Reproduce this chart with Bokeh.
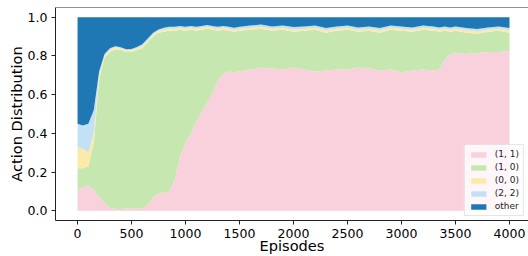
from bokeh.plotting import figure
from bokeh.models import ColumnDataSource, FixedTicker, Span, PrintfTickFormatter
from bokeh.embed import file_html
from bokeh.resources import INLINE

episodes = [0, 50, 100, 150, 200, 250, 300, 350, 400, 450, 500, 550, 600, 650, 700,
            750, 800, 850, 900, 950, 1000, 1050, 1100, 1150, 1200, 1250, 1300, 1350,
            1400, 1450, 1500, 1600, 1700, 1800, 1900, 2000, 2100, 2200, 2300, 2400,
            2500, 2600, 2700, 2800, 2900, 3000, 3100, 3200, 3300, 3350, 3400, 3450,
            3500, 3600, 3700, 3800, 3900, 4000]

a11 = [.11, .12, .13, .11, .07, .04, .015, .01, .01, .012, .015, .012, .01, .03, .07,
       .09, .095, .10, .16, .28, .35, .40, .46, .51, .56, .61, .67, .71,
       .72, .715, .72, .73, .74, .735, .73, .74, .73, .72, .725, .73,
       .73, .74, .735, .725, .73, .715, .725, .73, .725, .73, .78, .81,
       .815, .81, .815, .82, .82, .825]
a10 = [.11, .10, .10, .24, .61, .75, .805, .825, .82, .808, .805, .818, .83, .84, .83,
       .83, .83, .83, .77, .655, .58, .535, .47, .425, .38, .325, .26, .225,
       .21, .21, .21, .205, .20, .195, .205, .185, .20, .215, .195, .20,
       .205, .185, .195, .195, .205, .215, .20, .205, .205, .195, .15, .115,
       .115, .11, .10, .105, .11, .095]
a00 = [.11, .10, .07, .05, .02, .01, .01, .01, .01, .01, .01, .01, .01, .01, .01,
       .01, .01, .01, .01, .01, .01, .01, .01, .01, .01, .01, .01, .01,
       .01, .01, .01, .01, .01, .01, .01, .012, .01, .01, .012, .01,
       .01, .01, .01, .012, .01, .01, .01, .01, .01, .01, .01, .01,
       .01, .012, .012, .01, .01, .012]
a22 = [.12, .12, .15, .12, .02, .01, .01, .005, .005, .005, .006, .006, .01, .01, .01,
       .007, .01, .01, .01, .01, .01, .01, .01, .01, .01, .01, .01, .01,
       .01, .01, .01, .012, .012, .012, .012, .012, .012, .012, .012, .012,
       .012, .012, .012, .012, .012, .012, .012, .012, .012, .012, .012, .012,
       .012, .012, .012, .012, .012, .012]
other = [.55, .56, .55, .48, .28, .19, .16, .15, .155, .165, .164, .154, .14, .11, .08,
         .063, .055, .05, .05, .045, .05, .045, .05, .045, .04, .045, .05, .045,
         .05, .055, .05, .043, .038, .048, .043, .051, .048, .043, .056, .048,
         .043, .053, .048, .056, .043, .048, .053, .043, .048, .053, .048, .053,
         .048, .056, .061, .053, .048, .056]

labels = ["(1, 1)", "(1, 0)", "(0, 0)", "(2, 2)", "other"]
keys = ["a11", "a10", "a00", "a22", "other"]
colors = ["#f9d1dc", "#c7e7b0", "#fde9a8", "#c3e1f5", "#1f77b4"]

src = ColumnDataSource(dict(ep=episodes, a11=a11, a10=a10, a00=a00, a22=a22, other=other))

FONT = "DejaVu Sans"
p = figure(width=528, height=256, x_range=(-204, 4176), y_range=(-0.05, 1.05),
           output_backend="svg", toolbar_location=None,
           min_border_left=55, min_border_right=0, min_border_top=7, min_border_bottom=36)
p.outline_line_color = None
p.xgrid.visible = False
p.ygrid.visible = False

p.varea_stack(stackers=keys, x="ep", color=colors, legend_label=labels, source=src)

p.add_layout(Span(location=1.05, dimension="width", line_color="#222222", line_width=1))

for ax in (p.xaxis[0], p.yaxis[0]):
    ax.axis_line_color = "#222222"
    ax.major_tick_line_color = "#222222"
    ax.major_tick_out = 4
    ax.major_tick_in = 0
    ax.minor_tick_line_color = None
    ax.major_label_text_font = FONT
    ax.major_label_text_font_size = "12.5px"
    ax.major_label_text_color = "black"
    ax.axis_label_text_font = FONT
    ax.axis_label_text_font_size = "14.6px"
    ax.axis_label_text_font_style = "normal"
    ax.axis_label_text_color = "black"

p.yaxis.major_label_standoff = 4
p.yaxis.axis_label_standoff = 0
p.xaxis.major_label_standoff = 4
p.xaxis.axis_label_standoff = -4

p.xaxis.axis_label = "Episodes"
p.yaxis.axis_label = "Action Distribution"
p.xaxis.ticker = FixedTicker(ticks=[0, 500, 1000, 1500, 2000, 2500, 3000, 3500, 4000])
p.yaxis.ticker = FixedTicker(ticks=[0, 0.2, 0.4, 0.6, 0.8, 1.0])
p.yaxis.formatter = PrintfTickFormatter(format="%.1f")

lg = p.legend[0]
lg.location = "bottom_right"
lg.margin = 4
lg.padding = 4
lg.spacing = 3
lg.glyph_width = 19
lg.glyph_height = 7
lg.label_height = 9
lg.label_standoff = 7
lg.label_text_font = FONT
lg.label_text_font_size = "9px"
lg.label_text_color = "#222222"
lg.border_line_color = "#cccccc"
lg.background_fill_alpha = 0.8

open("out.html", "w").write(file_html(p, INLINE))
